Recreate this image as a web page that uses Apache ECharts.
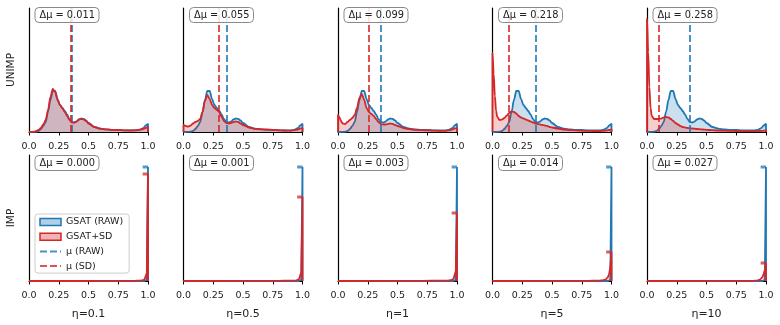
<!DOCTYPE html>
<html>
<head>
<meta charset="utf-8">
<script src="https://cdn.jsdelivr.net/npm/echarts@6/dist/echarts.min.js"></script>
<style>
  html, body { margin: 0; padding: 0; background: #fff; }
  #chart { width: 780px; height: 325px; }
</style>
</head>
<body>
<div id="chart"></div>
<script>
// tick labels / panel labels
var xTicks = ['0.0', '0.25', '0.5', '0.75', '1.0'];
var etaLabels = ['η=0.1', 'η=0.5', 'η=1', 'η=5', 'η=10'];
var rowLabels = ['UNIMP', 'IMP'];
var dmuTop = ['0.011', '0.055', '0.099', '0.218', '0.258'];
var dmuBot = ['0.000', '0.001', '0.003', '0.014', '0.027'];

// means (top row dashed lines)
var meanRawTop = 0.360;
var meanSdTop = [0.349, 0.305, 0.261, 0.142, 0.102];

// UNIMP densities
var xTop = [0, 0.01, 0.02, 0.03, 0.04, 0.06, 0.08, 0.10, 0.12, 0.14, 0.16, 0.18, 0.20, 0.22, 0.24, 0.26, 0.28, 0.30,
  0.32, 0.34, 0.36, 0.38, 0.40, 0.42, 0.44, 0.46, 0.48, 0.50, 0.55, 0.60, 0.65, 0.70, 0.75, 0.80, 0.85, 0.90, 0.93, 0.96, 0.98, 1.00];
var rawTop = [0, 0, 0, 0.005, 0.01, 0.03, 0.1, 0.3, 0.6, 1.0, 2.0, 3.2, 4.1, 4.1, 3.3, 2.7, 2.4, 2.1,
  1.75, 1.3, 1.0, 0.95, 1.05, 1.25, 1.35, 1.3, 1.15, 0.9, 0.5, 0.33, 0.26, 0.22, 0.2, 0.17, 0.15, 0.16, 0.22, 0.38, 0.65, 0.8];
var sdTop1 = [0, 0, 0.005, 0.01, 0.03, 0.08, 0.2, 0.4, 0.75, 1.2, 2.2, 3.5, 4.3, 4.0, 3.2, 2.7, 2.4, 2.0,
  1.6, 1.2, 0.95, 0.95, 1.05, 1.25, 1.3, 1.25, 1.1, 0.85, 0.5, 0.33, 0.26, 0.22, 0.2, 0.17, 0.16, 0.18, 0.23, 0.3, 0.4, 0.5];
var sdTop2 = [0.7, 0.65, 0.6, 0.55, 0.55, 0.65, 0.85, 1.0, 1.1, 1.3, 2.0, 3.1, 3.7, 3.3, 2.7, 2.4, 2.2, 2.0,
  1.5, 1.1, 0.9, 0.85, 0.9, 1.0, 1.05, 1.0, 0.85, 0.7, 0.45, 0.32, 0.28, 0.25, 0.22, 0.18, 0.15, 0.14, 0.18, 0.25, 0.35, 0.4];
var sdTop3 = [1.7, 1.5, 1.25, 1.0, 0.85, 0.8, 1.0, 1.2, 1.4, 1.7, 2.4, 3.4, 3.8, 3.2, 2.4, 2.0, 1.8, 1.6,
  1.3, 1.0, 0.8, 0.75, 0.75, 0.8, 0.85, 0.8, 0.7, 0.6, 0.4, 0.28, 0.22, 0.18, 0.16, 0.14, 0.12, 0.12, 0.16, 0.25, 0.35, 0.4];
var sdTop4 = [7.9, 5.8, 3.6, 2.1, 1.5, 1.2, 1.25, 1.4, 1.65, 1.9, 2.05, 2.0, 1.85, 1.6, 1.45, 1.35, 1.25, 1.15,
  1.05, 0.95, 0.85, 0.8, 0.75, 0.7, 0.65, 0.6, 0.5, 0.45, 0.35, 0.25, 0.2, 0.16, 0.13, 0.11, 0.1, 0.1, 0.12, 0.16, 0.2, 0.25];
var sdTop5 = [11.3, 8.0, 4.5, 2.4, 1.6, 1.3, 1.3, 1.3, 1.35, 1.45, 1.5, 1.45, 1.3, 1.1, 0.9, 0.75, 0.6, 0.5,
  0.45, 0.4, 0.38, 0.35, 0.33, 0.3, 0.28, 0.26, 0.24, 0.22, 0.18, 0.15, 0.13, 0.11, 0.1, 0.09, 0.08, 0.08, 0.09, 0.11, 0.13, 0.15];
var sdTop = [sdTop1, sdTop2, sdTop3, sdTop4, sdTop5];

// IMP densities
var xBot = [0, 0.5, 0.6, 0.7, 0.8, 0.85, 0.9, 0.93, 0.95, 0.96, 0.97, 0.98, 0.99, 1.0];
var rawBot = [0, 0, 0, 0, 0, 0, 0, 0, 0, 0, 0, 0.02, 0.1, 11.4];
var sdBot1 = [0, 0, 0.01, 0.02, 0.02, 0.02, 0.03, 0.04, 0.05, 0.08, 0.15, 0.3, 0.8, 10.7];
var sdBot2 = [0, 0.01, 0.02, 0.02, 0.02, 0.03, 0.03, 0.04, 0.06, 0.1, 0.18, 0.35, 0.9, 8.4];
var sdBot3 = [0, 0.02, 0.02, 0.02, 0.03, 0.03, 0.04, 0.05, 0.08, 0.12, 0.2, 0.4, 1.0, 6.8];
var sdBot4 = [0.01, 0.02, 0.02, 0.02, 0.02, 0.03, 0.03, 0.08, 0.15, 0.25, 0.4, 0.7, 1.4, 2.9];
var sdBot5 = [0.01, 0.02, 0.02, 0.02, 0.02, 0.02, 0.03, 0.07, 0.15, 0.25, 0.4, 0.7, 1.1, 1.8];
var sdBot = [sdBot1, sdBot2, sdBot3, sdBot4, sdBot5];

var BLUE = '#1f77b4', RED = '#d62728';
var BLUE_DASH = 'rgba(31,119,180,0.8)', RED_DASH = 'rgba(214,39,40,0.8)';
var lefts = [29, 183.5, 338, 492.5, 647];
var rows = [{top: 8, height: 124, max: 12.4}, {top: 155, height: 126, max: 12.6}];

function pairs(xs, ys) {
  var out = xs.map(function(x, i) { return [x, ys[i]]; });
  out.unshift([xs[0], 0]);
  out.push([xs[xs.length - 1], 0]);
  return out;
}

var grids = [], xAxes = [], yAxes = [], series = [], titles = [];
rows.forEach(function(row, r) {
  lefts.forEach(function(left, c) {
    var k = r * 5 + c;
    grids.push({left: left, top: row.top, width: 119, height: row.height});
    xAxes.push({
      gridIndex: k, type: 'value', min: 0, max: 1, interval: 0.25,
      axisLine: {lineStyle: {color: '#000', width: 1.2}},
      axisTick: {length: 3.5, lineStyle: {color: '#000', width: 1}},
      axisLabel: {fontSize: 9.5, color: '#222', margin: 10,
        formatter: function(v) { return xTicks[Math.round(v * 4)]; }},
      splitLine: {show: false},
      name: r === 1 ? etaLabels[c] : '',
      nameLocation: 'middle', nameGap: 28,
      nameTextStyle: {fontSize: 11, color: '#222'}
    });
    yAxes.push({
      gridIndex: k, type: 'value', min: 0, max: row.max,
      axisLine: {show: true, lineStyle: {color: '#000', width: 1.2}},
      axisTick: {show: false}, axisLabel: {show: false}, splitLine: {show: false},
      name: c === 0 ? rowLabels[r] : '',
      nameLocation: 'middle', nameGap: 12,
      nameTextStyle: {fontSize: 10.5, color: '#222'}
    });

    var xs = r === 0 ? xTop : xBot;
    var raw = r === 0 ? rawTop : rawBot;
    var sd = r === 0 ? sdTop[c] : sdBot[c];
    var smooth = r === 0 ? 0.3 : false;

    series.push({
      name: 'GSAT (RAW)', type: 'line', xAxisIndex: k, yAxisIndex: k,
      data: pairs(xs, raw), symbol: 'none', smooth: smooth, smoothMonotone: 'x',
      lineStyle: {color: BLUE, width: 1.8}, itemStyle: {color: BLUE},
      areaStyle: {color: 'rgba(31,119,180,0.33)'}, z: 2
    });
    series.push({
      name: 'GSAT+SD', type: 'line', xAxisIndex: k, yAxisIndex: k,
      data: pairs(xs, sd), symbol: 'none', smooth: smooth, smoothMonotone: 'x',
      lineStyle: {color: RED, width: 1.8}, itemStyle: {color: RED},
      areaStyle: {color: 'rgba(214,39,40,0.33)'}, z: 3
    });

    if (r === 0) {
      series.push({
        name: 'μ (RAW)', type: 'line', xAxisIndex: k, yAxisIndex: k, data: [],
        symbol: 'none', itemStyle: {color: BLUE_DASH},
        lineStyle: {color: BLUE_DASH, width: 2, type: [7, 3]}, z: 4,
        markLine: {silent: true, symbol: ['none', 'none'], label: {show: false}, animation: false,
          lineStyle: {color: BLUE_DASH, width: 2, type: [7, 3]},
          data: [{xAxis: meanRawTop}]}
      });
      series.push({
        name: 'μ (SD)', type: 'line', xAxisIndex: k, yAxisIndex: k, data: [],
        symbol: 'none', itemStyle: {color: RED_DASH},
        lineStyle: {color: RED_DASH, width: 2, type: [7, 3]}, z: 5,
        markLine: {silent: true, symbol: ['none', 'none'], label: {show: false}, animation: false,
          lineStyle: {color: RED_DASH, width: 2, type: [7, 3]},
          data: [{xAxis: meanSdTop[c]}]}
      });
    } else {
      // flat caps at the top of the IMP spikes
      series.push({
        name: 'capRaw', type: 'line', xAxisIndex: k, yAxisIndex: k, symbol: 'none',
        data: [[0.955, raw[raw.length - 1]], [1, raw[raw.length - 1]]],
        lineStyle: {color: 'rgba(31,119,180,0.75)', width: 3}, z: 4
      });
      series.push({
        name: 'capSd', type: 'line', xAxisIndex: k, yAxisIndex: k, symbol: 'none',
        data: [[0.955, sd[sd.length - 1]], [1, sd[sd.length - 1]]],
        lineStyle: {color: 'rgba(214,39,40,0.75)', width: 3}, z: 5
      });
    }

    titles.push({
      text: 'Δμ = ' + (r === 0 ? dmuTop[c] : dmuBot[c]),
      left: left + 6, top: r === 0 ? 7 : 155,
      padding: [3, 4.5],
      backgroundColor: 'rgba(255,255,255,0.85)',
      borderColor: '#8a8a8a', borderWidth: 1, borderRadius: 4,
      textStyle: {fontSize: 9.8, fontWeight: 'normal', color: '#222'}
    });
  });
});

var hidden = {color: 'rgba(0,0,0,0)', borderWidth: 0, opacity: 0};

var chart = echarts.init(document.getElementById('chart'), null, {renderer: 'canvas'});
chart.setOption({
  animation: false,
  textStyle: {fontFamily: 'DejaVu Sans'},
  title: titles,
  grid: grids,
  xAxis: xAxes,
  yAxis: yAxes,
  legend: {
    orient: 'vertical', left: 35, top: 214,
    padding: [3, 6, 2, 4], itemGap: 4.7, itemWidth: 21, itemHeight: 7,
    backgroundColor: 'rgba(255,255,255,0.85)', borderColor: '#cccccc', borderWidth: 1, borderRadius: 3,
    textStyle: {fontSize: 9.5, color: '#222'},
    selectedMode: false,
    data: [
      {name: 'GSAT (RAW)', icon: 'rect', itemStyle: {color: 'rgba(31,119,180,0.35)', borderColor: BLUE, borderWidth: 1.5}},
      {name: 'GSAT+SD', icon: 'rect', itemStyle: {color: 'rgba(214,39,40,0.35)', borderColor: RED, borderWidth: 1.5}},
      {name: 'μ (RAW)', itemStyle: hidden, lineStyle: {color: BLUE_DASH, width: 2, type: [7, 3]}},
      {name: 'μ (SD)', itemStyle: hidden, lineStyle: {color: RED_DASH, width: 2, type: [7, 3]}}
    ]
  },
  series: series
});
</script>
</body>
</html>
